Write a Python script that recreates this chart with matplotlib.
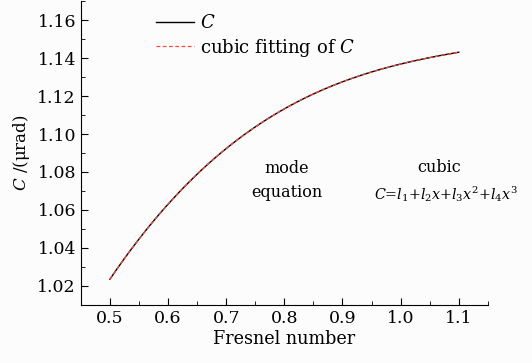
import numpy as np
import matplotlib.pyplot as plt
from matplotlib.ticker import MultipleLocator

plt.rcParams['font.family'] = ['DejaVu Serif']
plt.rcParams['mathtext.fontset'] = 'dejavuserif'

# values
fresnel = [0.50, 0.55, 0.60, 0.65, 0.70, 0.75, 0.80, 0.85, 0.90, 0.95, 1.00, 1.05, 1.10]
C_vals = [1.023, 1.045, 1.064, 1.079, 1.092, 1.103, 1.113, 1.121, 1.128, 1.133, 1.137, 1.140, 1.143]

x = np.array(fresnel)
y = np.array(C_vals)
coef = np.polyfit(x, y, 3)
xf = np.linspace(x.min(), x.max(), 200)
yf = np.polyval(coef, xf)

fig = plt.figure(figsize=(5.32, 3.63), dpi=100, facecolor='#fcfcfc')
ax = fig.add_axes([0.152, 0.160, 0.765, 0.837])
ax.set_facecolor('#fcfcfc')

ax.plot(xf, yf, color='black', lw=1.0, label='$C$')
ax.plot(xf, yf, color='#ff4a3a', lw=0.9, ls=(0, (3, 2)), label='cubic fitting of $C$')

ax.set_xlim(0.45, 1.15)
ax.set_ylim(1.01, 1.17)
ax.xaxis.set_minor_locator(MultipleLocator(0.05))
ax.yaxis.set_minor_locator(MultipleLocator(0.01))
ax.set_xticks([0.5, 0.6, 0.7, 0.8, 0.9, 1.0, 1.1])
ax.set_xticklabels(['0.5', '0.6', '0.7', '0.8', '0.9', '1.0', '1.1'])
ax.set_yticks([1.02, 1.04, 1.06, 1.08, 1.10, 1.12, 1.14, 1.16])
ax.set_yticklabels(['1.02', '1.04', '1.06', '1.08', '1.10', '1.12', '1.14', '1.16'])
ax.tick_params(which='both', direction='in', labelsize=12.5)
ax.tick_params(which='major', length=5)
ax.tick_params(which='minor', length=3)
ax.spines['top'].set_visible(False)
ax.spines['right'].set_visible(False)

ax.set_xlabel('Fresnel number', fontsize=12.7, labelpad=2)
ax.set_ylabel('$C$ /(μrad)', fontsize=12, labelpad=4)

ax.legend(loc='upper left', bbox_to_anchor=(0.145, 1.01), frameon=False, fontsize=13,
          handlelength=2.1, handletextpad=0.35, labelspacing=0.25)

ax.text(0.804, 1.0755, 'mode\nequation', ha='center', va='center', fontsize=11.5, linespacing=1.55)
ax.text(1.067, 1.0825, 'cubic', ha='center', va='center', fontsize=11.5)
ax.text(1.077, 1.0685, '$C$=$l_1$+$l_2x$+$l_3x^2$+$l_4x^3$', ha='center', va='center', fontsize=10.3)

fig.savefig('out.png', dpi=100, facecolor=fig.get_facecolor())
